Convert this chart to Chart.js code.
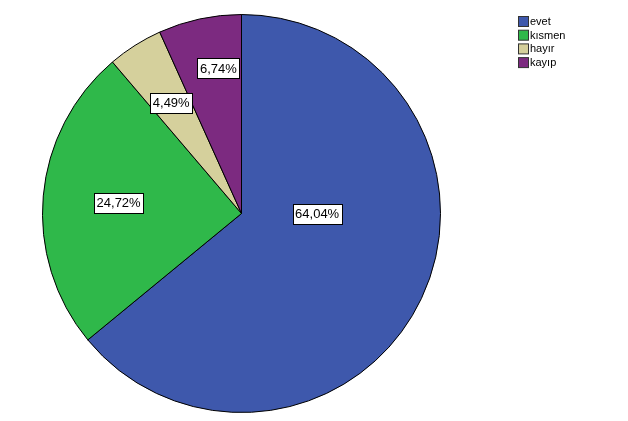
<!DOCTYPE html>
<html>
<head>
<meta charset="utf-8">
<script src="https://cdn.jsdelivr.net/npm/chart.js@4.4.0/dist/chart.umd.min.js"></script>
<style>
  html, body { margin: 0; padding: 0; background: #fff; }
  #wrap { width: 628px; height: 421px; position: relative; }
</style>
</head>
<body>
<div id="wrap"><canvas id="pie"></canvas></div>
<script>
// answer categories and their percentages
const categories = ['evet', 'kısmen', 'hayır', 'kayıp'];
const percents = [64.04, 24.72, 4.49, 6.74];
const colors = ['#3e58ac', '#2fb84a', '#d5d09c', '#7c2a80'];

// where each percentage box sits: fraction of radius, optional fixed angle (deg from top, clockwise)
const labelRadius = [0.38, 0.62, 0.66, 0.74];
const labelAngle = [90, null, null, 351];

const fmt = v => v.toFixed(2).replace('.', ',') + '%';

const boxLabels = {
    id: 'boxLabels',
    afterDatasetsDraw(chart) {
        const ctx = chart.ctx;
        const arcs = chart.getDatasetMeta(0).data;
        ctx.save();
        ctx.font = '13px Arial, "Liberation Sans", sans-serif';
        ctx.textAlign = 'center';
        ctx.textBaseline = 'middle';
        arcs.forEach((arc, i) => {
            const p = arc.getProps(['x', 'y', 'startAngle', 'endAngle', 'outerRadius'], true);
            let a = (p.startAngle + p.endAngle) / 2;
            if (labelAngle[i] !== null) a = labelAngle[i] * Math.PI / 180 - Math.PI / 2;
            const r = p.outerRadius * labelRadius[i];
            const x = p.x + Math.cos(a) * r;
            const y = p.y + Math.sin(a) * r;
            const txt = fmt(percents[i]);
            const w = Math.round(ctx.measureText(txt).width + 5);
            const h = 20;
            const bx = Math.round(x - w / 2) + 0.5;
            const by = Math.round(y - h / 2) + 0.5;
            ctx.fillStyle = '#fff';
            ctx.fillRect(bx, by, w, h);
            ctx.strokeStyle = '#000';
            ctx.lineWidth = 1;
            ctx.strokeRect(bx, by, w, h);
            ctx.fillStyle = '#000';
            ctx.fillText(txt, x, y + 1);
        });
        ctx.restore();
    }
};

const boxLegend = {
    id: 'boxLegend',
    afterDraw(chart) {
        const ctx = chart.ctx;
        ctx.save();
        ctx.font = '11px Arial, "Liberation Sans", sans-serif';
        ctx.textBaseline = 'middle';
        ctx.textAlign = 'left';
        categories.forEach((c, i) => {
            const y = 16 + i * 13.7;
            ctx.fillStyle = colors[i];
            ctx.fillRect(518.5, y + 0.5, 10, 10);
            ctx.strokeStyle = '#333';
            ctx.lineWidth = 1;
            ctx.strokeRect(518.5, y + 0.5, 10, 10);
            ctx.fillStyle = '#000';
            ctx.fillText(c, 530, y + 6);
        });
        ctx.restore();
    }
};

new Chart(document.getElementById('pie'), {
    type: 'pie',
    data: {
        labels: categories,
        datasets: [{
            data: percents,
            backgroundColor: colors,
            borderColor: '#000',
            borderWidth: 1
        }]
    },
    options: {
        responsive: true,
        maintainAspectRatio: false,
        animation: false,
        layout: { padding: { left: 42, right: 187, top: 14, bottom: 8 } },
        plugins: {
            legend: { display: false },
            tooltip: { enabled: false }
        }
    },
    plugins: [boxLabels, boxLegend]
});
</script>
</body>
</html>
